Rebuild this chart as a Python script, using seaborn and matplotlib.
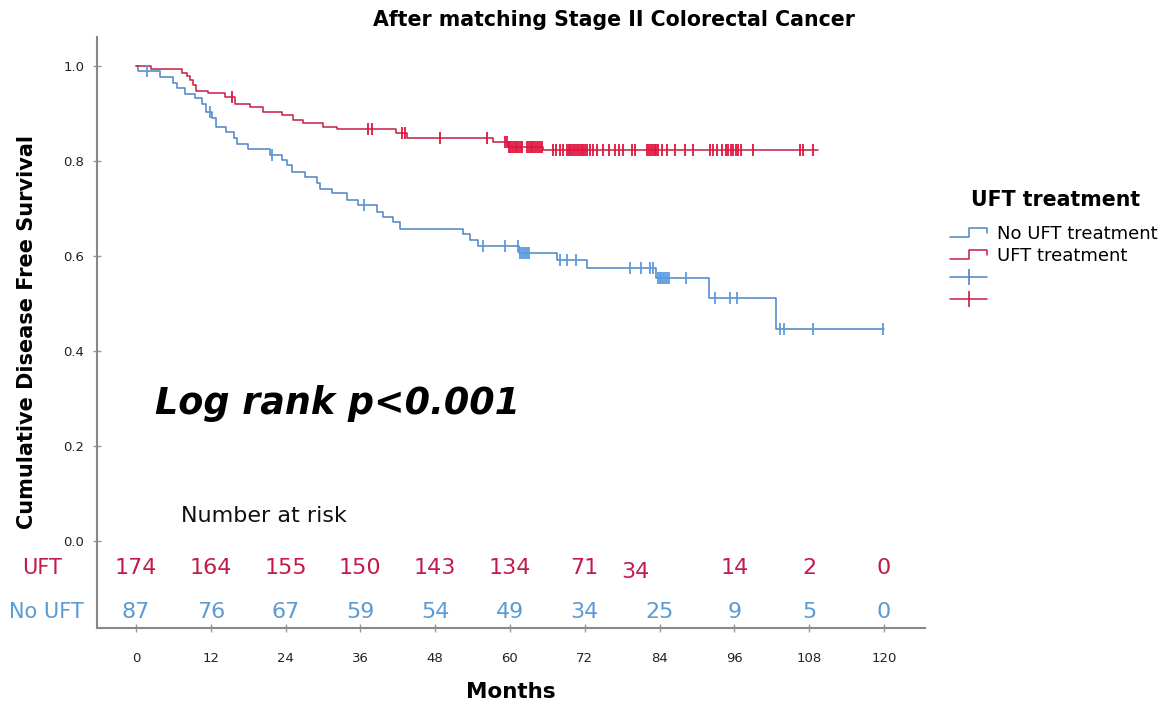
import numpy as np
import pandas as pd
import matplotlib
matplotlib.use("Agg")
import matplotlib.pyplot as plt
import seaborn as sns
from matplotlib.lines import Line2D
from matplotlib.legend_handler import HandlerBase

# ---------------- data ----------------
groups = ["No UFT treatment", "UFT treatment"]

# No UFT treatment: step start times (months) and survival level from that time
no_uft_times = [0, 0.3, 3.85, 6.0, 6.63, 7.86, 9.47, 10.54, 11.23, 12.14, 12.83,
                14.44, 15.72, 16.15, 18.02, 21.5, 23.37, 24.17, 24.97, 27.11,
                28.99, 29.52, 31.39, 33.8, 35.67, 38.61, 39.68, 41.29, 42.36,
                52.5, 53.59, 54.92, 61.4, 67.5, 72.3, 83.5, 92.0, 102.7, 120.0]
no_uft_surv = [1.0, 0.989, 0.977, 0.964, 0.953, 0.942, 0.932, 0.921, 0.904, 0.890,
               0.872, 0.862, 0.848, 0.835, 0.825, 0.813, 0.802, 0.792, 0.777,
               0.767, 0.753, 0.742, 0.732, 0.718, 0.707, 0.693, 0.683, 0.672,
               0.657, 0.647, 0.634, 0.621, 0.607, 0.592, 0.574, 0.553, 0.511,
               0.447, 0.447]

# UFT treatment
uft_times = [0, 2.41, 7.43, 8.13, 8.66, 9.09, 9.63, 11.6, 14.28, 15.88, 18.29,
             20.43, 23.37, 25.24, 26.84, 30.05, 32.19, 41.71, 43.43, 57.3, 59.7,
             65.3, 109.4]
uft_surv = [1.0, 0.994, 0.985, 0.978, 0.970, 0.960, 0.948, 0.943, 0.934, 0.920,
            0.913, 0.904, 0.897, 0.886, 0.879, 0.872, 0.867, 0.858, 0.848, 0.839,
            0.830, 0.823, 0.823]

# censoring times (months)
no_uft_censor = [1.71, 11.87, 21.77, 36.58, 55.7, 59.2, 61.3, 61.6, 61.9, 62.2,
                 62.5, 62.8, 63.1, 68.0, 69.1, 70.6, 79.3, 81.1, 82.5, 83.0, 83.7,
                 84.0, 84.3, 84.6, 84.9, 85.2, 85.5, 88.3, 92.9, 95.3, 96.4,
                 103.3, 103.9, 108.6, 119.8]
uft_censor = [15.35, 37.27, 37.81, 42.6, 43.16, 48.77, 56.26, 59.2, 59.5, 59.8,
              60.0, 60.3, 60.6, 60.9, 61.2, 61.5, 61.8, 62.0, 62.7, 63.0, 63.3,
              63.6, 63.9, 64.2, 64.5, 64.8, 65.1, 66.9, 67.4, 68.0, 68.5, 69.1,
              69.4, 69.7, 70.0, 70.3, 70.6, 70.9, 71.2, 71.5, 71.8, 72.1, 72.4,
              72.8, 73.3, 74.0, 75.0, 75.9, 76.9, 77.5, 78.1, 79.6, 80.0, 82.0,
              82.3, 82.6, 82.9, 83.2, 83.5, 83.7, 84.4, 85.2, 86.5, 88.1, 89.4,
              92.1, 92.6, 93.2, 94.0, 94.6, 95.0, 95.4, 95.8, 96.2, 96.6, 97.0,
              99.0, 106.5, 107.0, 108.6]

# number at risk
risk_times = [0, 12, 24, 36, 48, 60, 72, 84, 96, 108, 120]
risk_uft = [174, 164, 155, 150, 143, 134, 71, 34, 14, 2, 0]
risk_no_uft = [87, 76, 67, 59, 54, 49, 34, 25, 9, 5, 0]

xtick_values = [0, 12, 24, 36, 48, 60, 72, 84, 96, 108, 120]
ytick_values = [0.0, 0.2, 0.4, 0.6, 0.8, 1.0]

# ---------------- styles ----------------
BLUE_LINE = "#4C84C4"
RED_LINE = "#C41E45"
BLUE_CENS = "#5A9BE0"
RED_CENS = "#E0143E"
BLUE_TXT = "#5B9BD5"
RED_TXT = "#C31A4B"

sns.set_theme(style="white")
plt.rcParams["font.family"] = ["DejaVu Sans"]
plt.rcParams["text.color"] = "black"

fig = plt.figure(figsize=(11.68, 7.09), dpi=100)
ax = fig.add_axes([97 / 1168, 1 - 628 / 709, (925 - 97) / 1168, (628 - 37) / 709])

curves = pd.DataFrame({
    "time": no_uft_times + uft_times,
    "surv": no_uft_surv + uft_surv,
    "group": [groups[0]] * len(no_uft_times) + [groups[1]] * len(uft_times),
})


def step_value(times, surv, t):
    idx = np.searchsorted(np.asarray(times), t, side="right") - 1
    return float(surv[idx])


cens = pd.DataFrame({
    "time": no_uft_censor + uft_censor,
    "surv": [step_value(no_uft_times, no_uft_surv, t) for t in no_uft_censor]
            + [step_value(uft_times, uft_surv, t) for t in uft_censor],
    "group": [groups[0]] * len(no_uft_censor) + [groups[1]] * len(uft_censor),
})

sns.lineplot(data=curves, x="time", y="surv", hue="group",
             palette={groups[0]: BLUE_LINE, groups[1]: RED_LINE},
             drawstyle="steps-post", estimator=None, linewidth=1.1,
             legend=False, ax=ax)

for g, c in [(groups[0], BLUE_CENS), (groups[1], RED_CENS)]:
    sub = cens[cens["group"] == g]
    ax.plot(sub["time"], sub["surv"], linestyle="none", marker="|",
            markersize=9, markeredgewidth=1.3, color=c)

ax.set_xlim(-6.26, 126.6)
ax.set_ylim(-0.1832, 1.0611)
ax.set_xticks(xtick_values)
ax.set_xticklabels([str(v) for v in xtick_values])
ax.set_yticks(ytick_values)
ax.set_yticklabels([f"{v:.1f}" for v in ytick_values])
ax.set_xlabel("")
ax.set_ylabel("")
ax.tick_params(axis="both", which="major", direction="inout", length=6,
               width=1, color="#999999", labelsize=9.5, labelcolor="#222222",
               left=True, bottom=True)
ax.tick_params(axis="x", pad=14)
ax.tick_params(axis="y", pad=6)
for side in ["top", "right"]:
    ax.spines[side].set_visible(False)
for side in ["left", "bottom"]:
    ax.spines[side].set_color("#888888")
    ax.spines[side].set_linewidth(1.5)

# number at risk
ax.text(7.2, 0.0526, "Number at risk", fontsize=16, color="#111111",
        ha="left", va="center")
for t, n in zip(risk_times, risk_uft):
    dx, dy = (-3.8, -0.008) if (t == 84) else (0, 0)
    ax.text(t + dx, -0.0568 + dy, str(n), fontsize=16, color=RED_TXT,
            ha="center", va="center")
for t, n in zip(risk_times, risk_no_uft):
    ax.text(t, -0.149, str(n), fontsize=16, color=BLUE_TXT,
            ha="center", va="center")
ax.text(-15.0, -0.0568, "UFT", fontsize=15, color=RED_TXT, ha="center",
        va="center", clip_on=False)
ax.text(-14.4, -0.149, "No UFT", fontsize=15, color=BLUE_TXT, ha="center",
        va="center", clip_on=False)

ax.text(3.05, 0.29, "Log rank p<0.001", fontsize=26.3, fontweight="bold",
        fontstyle="italic", color="black", ha="left", va="center")

# titles and labels
fig.text(614 / 1168, 1 - 20 / 709, "After matching Stage II Colorectal Cancer",
         fontsize=14.8, fontweight="bold", ha="center", va="center")
fig.text(27 / 1168, 1 - 332 / 709, "Cumulative Disease Free Survival",
         fontsize=15, fontweight="bold", rotation=90, ha="center", va="center")
fig.text(511 / 1168, 1 - 692 / 709, "Months", fontsize=15.5,
         fontweight="bold", ha="center", va="center")
fig.text(1056 / 1168, 1 - 200 / 709, "UFT treatment", fontsize=14.8,
         fontweight="bold", ha="center", va="center")


# legend with step-shaped handles
class StepHandler(HandlerBase):
    def create_artists(self, legend, orig_handle, xdescent, ydescent, width,
                       height, fontsize, trans):
        x0, y0 = -xdescent, -ydescent
        xs = [x0, x0 + 0.5 * width, x0 + 0.5 * width, x0 + width, x0 + width]
        ys = [y0 + 0.15 * height, y0 + 0.15 * height, y0 + 0.85 * height,
              y0 + 0.85 * height, y0 + 0.5 * height]
        ln = Line2D(xs, ys, color=orig_handle.get_color(),
                    linewidth=orig_handle.get_linewidth(), transform=trans)
        return [ln]


class StepLine(Line2D):
    pass


h_blue = StepLine([], [], color=BLUE_LINE, linewidth=1.1)
h_red = StepLine([], [], color=RED_LINE, linewidth=1.1)
h_bc = Line2D([], [], color=BLUE_LINE, linewidth=1.1, marker="|",
              markersize=12, markeredgewidth=1.2)
h_rc = Line2D([], [], color=RED_LINE, linewidth=1.1, marker="|",
              markersize=12, markeredgewidth=1.2)

leg = fig.legend(handles=[h_blue, h_red, h_bc, h_rc],
                 labels=["No UFT treatment", "UFT treatment", "", ""],
                 loc="upper left", borderaxespad=0,
                 bbox_to_anchor=(943 / 1168, 1 - 218 / 709),
                 frameon=False, fontsize=13, handlelength=2.05,
                 handletextpad=0.55, labelspacing=0.22,
                 handler_map={StepLine: StepHandler()})
for txt in leg.get_texts():
    txt.set_color("black")

fig.savefig("out.png", dpi=100)
